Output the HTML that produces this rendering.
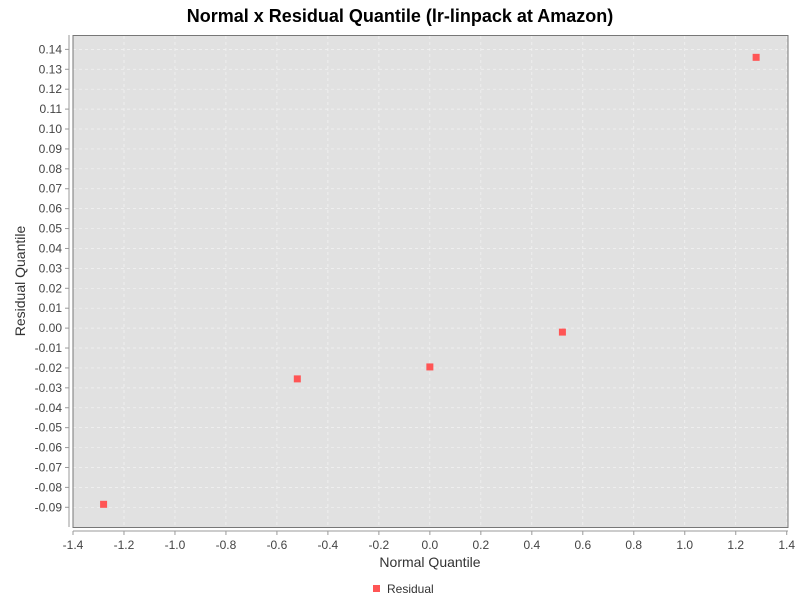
<!DOCTYPE html>
<html><head><meta charset="utf-8"><style>
body{margin:0;background:#fff;font-family:"Liberation Sans","DejaVu Sans",sans-serif;}
</style></head><body>
<svg id="c" width="800" height="600" xmlns="http://www.w3.org/2000/svg">
<text x="400" y="22" text-anchor="middle" font-size="18" font-weight="bold" fill="#000">Normal x Residual Quantile (lr-linpack at Amazon)</text>
<rect x="73" y="35.5" width="715" height="492" fill="#e1e1e1"/>
<g id="grid"></g>
<rect x="73" y="35.5" width="715" height="492" fill="none" stroke="#777" stroke-width="1"/>
<g id="axes"></g><g id="pts"></g>
<text x="430" y="567" text-anchor="middle" font-size="14" fill="#333">Normal Quantile</text>
<text transform="translate(25,281) rotate(-90)" text-anchor="middle" font-size="14" fill="#333">Residual Quantile</text>
<g>
<rect x="373" y="585" width="7" height="7" fill="#ff5555"/>
<text x="387" y="593" font-size="12" fill="#333">Residual</text>
</g>
</svg>
<script>
const xTicks=[-1.4,-1.2,-1.0,-0.8,-0.6,-0.4,-0.2,0.0,0.2,0.4,0.6,0.8,1.0,1.2,1.4];
const yTicks=[-0.09,-0.08,-0.07,-0.06,-0.05,-0.04,-0.03,-0.02,-0.01,0.00,0.01,0.02,0.03,0.04,0.05,0.06,0.07,0.08,0.09,0.10,0.11,0.12,0.13,0.14];
const normalQ=[-1.28,-0.52,0.0,0.52,1.28];
const residualQ=[-0.0885,-0.0255,-0.0195,-0.002,0.136];
const NS="http://www.w3.org/2000/svg";
function sx(v){return 73+(v+1.4)*254.9;}
function sy(v){return 507.3-(v+0.09)*1991;}
function mk(t,a,p){const e=document.createElementNS(NS,t);for(const k in a)e.setAttribute(k,a[k]);document.getElementById(p).appendChild(e);return e;}
xTicks.forEach(v=>{
 const x=sx(v);
 const g=mk('line',{x1:x,x2:x,y1:36,y2:527,stroke:'#f4f4f4','stroke-dasharray':'3,3','stroke-width':0.7},'grid');
 
 
 const t=mk('line',{x1:x,x2:x,y1:531,y2:535,stroke:'#999'},'axes');
 
 
 const l=mk('text',{x:x,y:549,'text-anchor':'middle','font-size':12,fill:'#444'},'axes');
 l.textContent=v.toFixed(1);
 
 
});
yTicks.forEach(v=>{
 const y=sy(v);
 const g=mk('line',{x1:73,x2:788,y1:y,y2:y,stroke:'#f4f4f4','stroke-dasharray':'3,3','stroke-width':0.7},'grid');
 
 
 const t=mk('line',{x1:65,x2:69,y1:y,y2:y,stroke:'#999'},'axes');
 
 
 const l=mk('text',{x:62,y:y+4,'text-anchor':'end','font-size':12,fill:'#444'},'axes');
 l.textContent=v.toFixed(2);
 
 
});
const ax=mk('line',{x1:73,x2:788,y1:531,y2:531,stroke:'#999'},'axes');


const ay=mk('line',{x1:69,x2:69,y1:35,y2:527,stroke:'#999'},'axes');


normalQ.forEach((v,i)=>{
 const p=mk('rect',{x:sx(v)-3.5,y:sy(residualQ[i])-3.5,width:7,height:7,fill:'#ff5555'},'pts');
 
 
});
</script>
</body></html>
